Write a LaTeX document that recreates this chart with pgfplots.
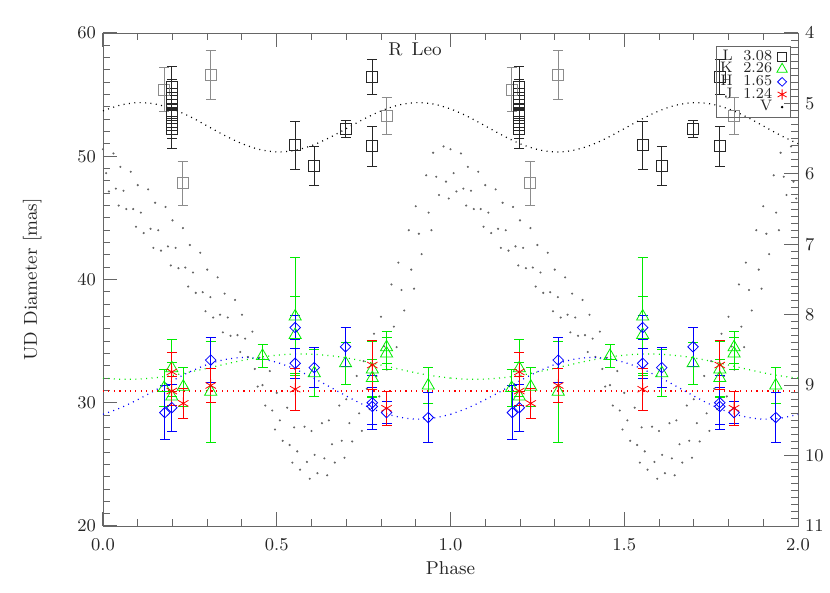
\documentclass[border=0pt]{standalone}
\usepackage{pgfplots}
\pgfplotsset{compat=1.18}
\usepackage{pgfplotstable}

\definecolor{idlgreen}{RGB}{0,235,0}
\definecolor{idlblue}{RGB}{0,0,255}
\definecolor{idlred}{RGB}{255,0,0}

% L band (3.08 um), light and dark squares
\pgfplotstableread{
p d e
0.176 55.4 1.8
0.229 47.8 1.8
0.310 56.6 2.0
0.816 53.3 1.5
}\Llight
\pgfplotstableread{
p d e
0.198 55.6 1.7
0.198 54.7 1.5
0.198 54.2 1.3
0.198 53.5 1.4
0.198 52.8 1.4
0.198 52.2 1.6
0.553 50.9 1.95
0.608 49.2 1.6
0.698 52.2 0.7
0.775 56.45 1.4
0.775 50.8 1.6
}\Ldark
% K band (2.26 um)
\pgfplotstableread{
p d e
0.176 31.2 1.5
0.198 32.8 2.3
0.198 30.5 2.8
0.231 31.3 1.6
0.310 30.9 4.1
0.459 33.8 0.95
0.553 37.0 4.8
0.553 35.5 3.1
0.608 32.4 1.9
0.698 33.2 1.7
0.775 32.7 2.3
0.775 32.0 1.5
0.816 34.5 1.3
0.816 34.0 1.3
0.936 31.4 1.5
}\Kdata
% H band (1.65 um)
\pgfplotstableread{
p d e
0.178 29.2 2.2
0.198 29.6 1.9
0.310 33.46 1.8
0.553 36.1 1.0
0.553 33.2 1.2
0.608 32.85 1.6
0.698 34.54 1.6
0.775 30.0 2.2
0.775 29.7 1.5
0.816 29.2 0.9
0.936 28.8 2.0
}\Hdata
% J band (1.24 um)
\pgfplotstableread{
p d e
0.198 32.5 1.6
0.198 30.95 1.2
0.231 29.95 1.2
0.310 31.4 1.4
0.553 31.1 1.7
0.775 33.06 1.95
0.816 29.55 1.4
}\Jdata
% fitted curves, one cycle
\pgfplotstableread{
p k h
0.00 32.00 29.06
0.05 31.91 29.58
0.10 31.92 30.25
0.15 32.03 31.01
0.20 32.22 31.79
0.25 32.49 32.51
0.30 32.80 33.10
0.35 33.12 33.50
0.40 33.43 33.67
0.45 33.68 33.59
0.50 33.86 33.28
0.55 33.95 32.76
0.60 33.94 32.09
0.65 33.83 31.33
0.70 33.64 30.55
0.75 33.37 29.83
0.80 33.06 29.24
0.85 32.74 28.85
0.90 32.43 28.67
0.95 32.18 28.75
1.00 32.00 29.06
}\Fits
% V magnitude light curve, one cycle
\pgfplotstableread{
p m
0.000 5.65
0.009 5.99
0.017 6.25
0.030 5.71
0.037 6.21
0.045 6.45
0.050 5.90
0.059 6.24
0.067 6.50
0.080 5.97
0.087 6.50
0.095 6.75
0.100 6.16
0.109 6.55
0.117 6.84
0.130 6.22
0.137 6.78
0.145 7.05
0.150 6.41
0.159 6.80
0.167 7.09
0.180 6.47
0.187 7.03
0.195 7.30
0.200 6.66
0.209 7.05
0.217 7.34
0.230 6.77
0.237 7.33
0.245 7.60
0.250 7.01
0.259 7.40
0.267 7.69
0.280 7.12
0.287 7.68
0.295 7.95
0.300 7.36
0.309 7.75
0.317 8.04
0.330 7.47
0.337 8.00
0.345 8.25
0.350 7.70
0.359 8.04
0.367 8.30
0.380 7.79
0.387 8.29
0.395 8.53
0.400 8.00
0.409 8.34
0.417 8.60
0.430 8.24
0.437 8.77
0.445 9.02
0.450 8.61
0.459 9.00
0.467 9.29
0.480 8.80
0.487 9.36
0.495 9.63
0.500 9.11
0.509 9.50
0.517 9.79
0.530 9.32
0.537 9.85
0.545 10.10
0.550 9.60
0.559 9.94
0.567 10.20
0.580 9.59
0.587 10.09
0.595 10.33
0.600 9.65
0.609 9.99
0.617 10.25
0.630 9.54
0.637 10.04
0.645 10.28
0.650 9.50
0.659 9.84
0.667 10.10
0.680 9.29
0.687 9.79
0.695 10.03
0.700 9.20
0.709 9.54
0.717 9.80
0.730 8.87
0.737 9.40
0.745 9.65
0.750 8.66
0.759 9.05
0.767 9.34
0.780 8.27
0.787 8.87
0.795 9.16
0.800 8.03
0.809 8.45
0.817 8.78
0.830 7.57
0.837 8.17
0.845 8.46
0.850 7.26
0.859 7.65
0.867 7.94
0.880 6.80
0.887 7.36
0.895 7.63
0.900 6.46
0.909 6.85
0.917 7.14
0.930 6.02
0.937 6.55
0.945 6.80
0.950 5.70
0.959 6.04
0.967 6.30
0.980 5.61
0.987 6.11
0.995 6.35
}\Vdata

\pgfplotsset{
  base/.style={
    scale only axis, width=347.5pt, height=246.5pt,
    xmin=0, xmax=2,
    axis line style={black!60},
    tick style={black!60, line width=0.5pt},
    major tick length=7pt, minor tick length=3.5pt,
    tick label style={font=\fontsize{9.3}{11}\selectfont, text=black!85},
    label style={font=\fontsize{9.3}{11}\selectfont, text=black!85},
  },
  dotcurve/.style={line width=0.6pt, dash pattern=on 0.5pt off 2.2pt, smooth},
  vdots/.style={only marks, mark=*, mark size=0.3pt, black!60},
}

\begin{document}
\begin{tikzpicture}
% right axis: V magnitude
\begin{axis}[base,
    ymin=4, ymax=11, y dir=reverse,
    axis x line=none, axis y line*=right,
    ytick={4,...,11}, minor y tick num=9,
]
\addplot[vdots] table[x=p, y=m] \Vdata;
\addplot[vdots] table[x expr=\thisrow{p}+1, y=m] \Vdata;
\end{axis}

% left axis: UD diameter
\begin{axis}[base,
    ymin=20, ymax=60,
    ytick={20,30,...,60}, minor y tick num=9, ytick pos=left,
    xtick={0,0.5,...,2}, minor x tick num=4,
    xtick pos=both, xticklabel pos=bottom,
    xticklabel style={yshift=-3pt, /pgf/number format/.cd, fixed, fixed zerofill, precision=1},
    xlabel={Phase}, ylabel={UD Diameter [mas]},
    xlabel style={at={(axis description cs:0.5,-0.085)}, anchor=center},
    ylabel style={at={(axis description cs:-0.102,0.5)}, anchor=center},
    error bars/error bar style={line width=0.5pt},
    error bars/error mark options={rotate=90, mark size=2.5pt, line width=0.5pt},
    legend plot pos=right, legend cell align=right,
    legend style={at={(rel axis cs:0.9895,0.974)}, anchor=north east,
      draw=black!60, fill=none, inner sep=1.5pt, row sep=-1.2pt, column sep=2pt,
      nodes={inner sep=0.4pt},
      font=\fontsize{7.6}{7.6}\selectfont, text=black!85},
]
\coordinate (SW) at (rel axis cs:0,0);
\coordinate (NE) at (rel axis cs:1,1);

% fits
\addplot[dotcurve, black, forget plot] coordinates {
(0.00,53.68) (0.05,54.15) (0.10,54.35) (0.15,54.24) (0.20,53.84) (0.25,53.22)
(0.30,52.46) (0.35,51.69) (0.40,51.02) (0.45,50.55) (0.50,50.35) (0.55,50.46)
(0.60,50.86) (0.65,51.48) (0.70,52.24) (0.75,53.01) (0.80,53.68) (0.85,54.15)
(0.90,54.35) (0.95,54.24) (1.00,53.84) (1.05,53.22) (1.10,52.46) (1.15,51.69)
(1.20,51.02) (1.25,50.55) (1.30,50.35) (1.35,50.46) (1.40,50.86) (1.45,51.48)
(1.50,52.24) (1.55,53.01) (1.60,53.68) (1.65,54.15) (1.70,54.35) (1.75,54.24)
(1.80,53.84) (1.85,53.22) (1.90,52.46) (1.95,51.69) (2.00,51.02)
};
\addplot[dotcurve, idlgreen, forget plot] table[x=p, y=k] \Fits;
\addplot[dotcurve, idlgreen, forget plot] table[x expr=\thisrow{p}+1, y=k] \Fits;
\addplot[dotcurve, idlblue, forget plot] table[x=p, y=h] \Fits;
\addplot[dotcurve, idlblue, forget plot] table[x expr=\thisrow{p}+1, y=h] \Fits;
\addplot[dotcurve, idlred, forget plot] coordinates {(0,30.95) (2,30.95)};

% L
\addplot[only marks, mark=square, mark size=2.75pt, black!45, forget plot,
  error bars/.cd, y dir=both, y explicit] table[x=p, y=d, y error=e] \Llight;
\addplot[only marks, mark=square, mark size=2.75pt, black!45, forget plot,
  error bars/.cd, y dir=both, y explicit] table[x expr=\thisrow{p}+1, y=d, y error=e] \Llight;
\addplot[only marks, mark=square, mark size=2.75pt, black!85, forget plot,
  error bars/.cd, y dir=both, y explicit] table[x=p, y=d, y error=e] \Ldark;
\addplot[only marks, mark=square, mark size=2.75pt, black!85, forget plot,
  error bars/.cd, y dir=both, y explicit] table[x expr=\thisrow{p}+1, y=d, y error=e] \Ldark;
% K
\addplot[only marks, mark=triangle, mark size=3.5pt, idlgreen, forget plot,
  error bars/.cd, y dir=both, y explicit] table[x=p, y=d, y error=e] \Kdata;
\addplot[only marks, mark=triangle, mark size=3.5pt, idlgreen, forget plot,
  error bars/.cd, y dir=both, y explicit] table[x expr=\thisrow{p}+1, y=d, y error=e] \Kdata;
% H
\addplot[only marks, mark=diamond, mark size=2.6pt, mark options={xscale=1.35}, idlblue, forget plot,
  error bars/.cd, y dir=both, y explicit] table[x=p, y=d, y error=e] \Hdata;
\addplot[only marks, mark=diamond, mark size=2.6pt, mark options={xscale=1.35}, idlblue, forget plot,
  error bars/.cd, y dir=both, y explicit] table[x expr=\thisrow{p}+1, y=d, y error=e] \Hdata;
% J
\addplot[only marks, mark=asterisk, mark size=3pt, idlred, forget plot,
  error bars/.cd, y dir=both, y explicit] table[x=p, y=d, y error=e] \Jdata;
\addplot[only marks, mark=asterisk, mark size=3pt, idlred, forget plot,
  error bars/.cd, y dir=both, y explicit] table[x expr=\thisrow{p}+1, y=d, y error=e] \Jdata;

\addlegendimage{only marks, mark=square, mark size=2.3pt, black!85}
\addlegendentry{L\ \ 3.08}
\addlegendimage{only marks, mark=triangle, mark size=3pt, idlgreen}
\addlegendentry{K\ \ 2.26}
\addlegendimage{only marks, mark=diamond, mark size=2.2pt, mark options={xscale=1.35}, idlblue}
\addlegendentry{H\ \ 1.65}
\addlegendimage{only marks, mark=asterisk, mark size=2.6pt, idlred}
\addlegendentry{J\ \ 1.24}
\addlegendimage{only marks, mark=*, mark size=0.4pt, black}
\addlegendentry{V}

\node[anchor=north, font=\fontsize{9.3}{11}\selectfont, text=black!85]
  at (rel axis cs:0.449,0.995) {R\hspace{0.5em}Leo};
\end{axis}
\pgfresetboundingbox
\path ([xshift=-51.5pt,yshift=-33.5pt]SW) rectangle ([xshift=16pt,yshift=16.5pt]NE);
\end{tikzpicture}
\end{document}
